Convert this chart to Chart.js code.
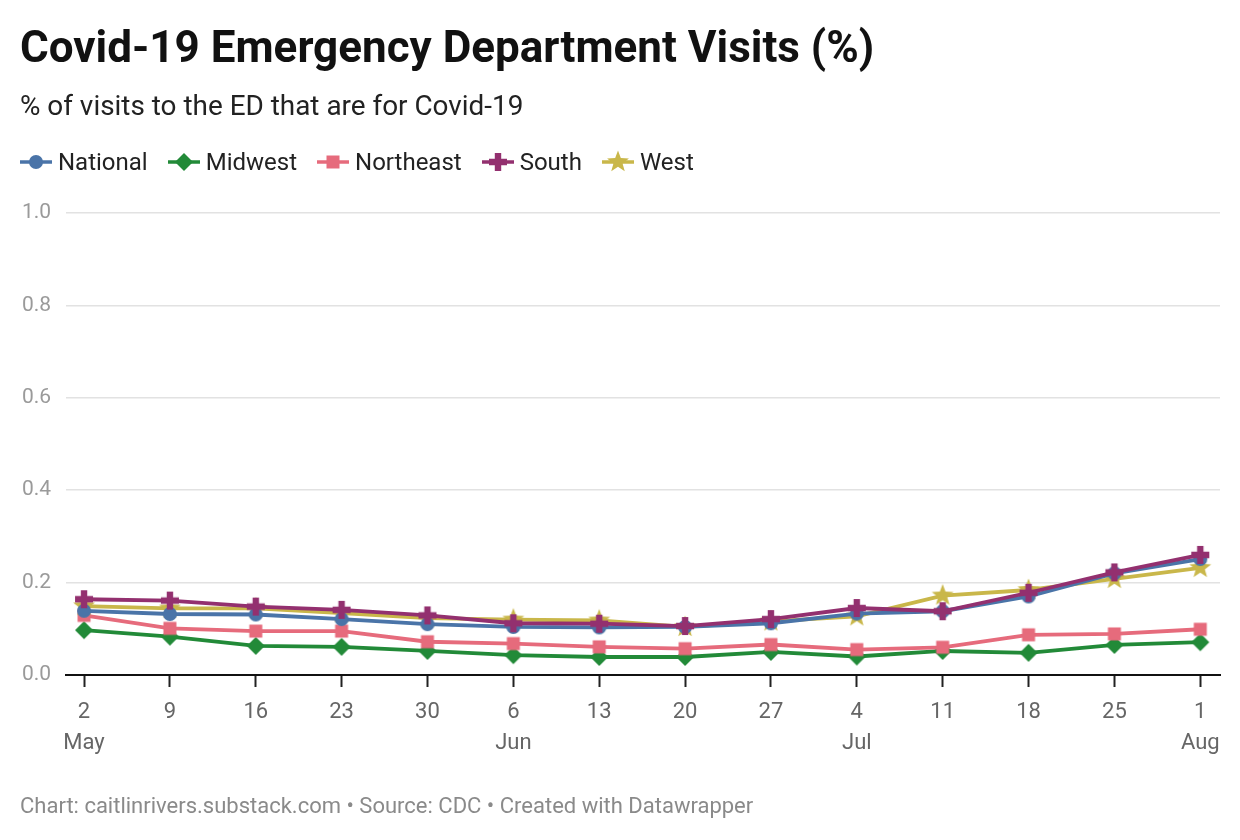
<!DOCTYPE html>
<html><head><meta charset="utf-8">
<script src="https://cdn.jsdelivr.net/npm/chart.js@4.4.1/dist/chart.umd.min.js"></script>
<style>
html,body{margin:0;padding:0;background:#fff;}
body{width:1240px;height:840px;position:relative;overflow:hidden;font-family:Roboto,sans-serif;}
#wrap{position:absolute;left:0;top:0;width:1240px;height:840px;}
.txt{position:absolute;white-space:nowrap;z-index:2}
#title{left:20px;top:21px;font-size:44px;font-weight:700;color:#111;line-height:52px;}
#subtitle{left:20px;top:89px;font-size:27.9px;color:#222;line-height:34px;}
#legend{left:20px;top:145px;display:flex;font-size:24px;color:#222;line-height:34px;}
.item{display:flex;align-items:center;margin-right:20px}
.item canvas{margin-right:6px}
#footer{left:20px;top:791px;font-size:22px;color:#8a8a8a;line-height:30px;}
</style></head>
<body>
<div id="title" class="txt">Covid-19 Emergency Department Visits (%)</div>
<div id="subtitle" class="txt">% of visits to the ED that are for Covid-19</div>
<div id="legend" class="txt"></div>
<div id="footer" class="txt">Chart: caitlinrivers.substack.com • Source: CDC • Created with Datawrapper</div>
<div id="wrap"><canvas id="c" width="1240" height="840"></canvas></div>
<script>
const weeks = ['2','9','16','23','30','6','13','20','27','4','11','18','25','1'];
const months = ['May','','','','','Jun','','','','Jul','','','','Aug'];
const seriesNames = ['National','Midwest','Northeast','South','West'];
const national  = [0.139,0.132,0.131,0.121,0.110,0.104,0.103,0.104,0.112,0.133,0.138,0.170,0.220,0.251];
const midwest   = [0.097,0.083,0.063,0.061,0.052,0.043,0.039,0.039,0.050,0.040,0.052,0.048,0.065,0.071];
const northeast = [0.129,0.101,0.095,0.095,0.072,0.068,0.061,0.057,0.066,0.055,0.060,0.087,0.089,0.099];
const south     = [0.164,0.161,0.148,0.141,0.129,0.112,0.111,0.106,0.121,0.145,0.138,0.178,0.222,0.260];
const west      = [0.149,0.144,0.144,0.134,0.123,0.120,0.118,0.104,0.116,0.127,0.172,0.184,0.208,0.232];
const yTicks = [0,0.2,0.4,0.6,0.8,1.0];

const colors = {National:'#4a74a8', Midwest:'#228a38', Northeast:'#e66b7c', South:'#93306f', West:'#c9b74a'};
const shapes = {National:'circle', Midwest:'diamond', Northeast:'square', South:'plus', West:'star'};
const values = {National:national, Midwest:midwest, Northeast:northeast, South:south, West:west};
const orders = {South:1, National:2, West:3, Northeast:4, Midwest:5};

function drawShape(ctx, shape, cx, cy, color){
  ctx.fillStyle = color;
  ctx.beginPath();
  if(shape==='circle'){ ctx.arc(cx,cy,7,0,Math.PI*2); }
  else if(shape==='diamond'){ ctx.moveTo(cx,cy-9); ctx.lineTo(cx+9,cy); ctx.lineTo(cx,cy+9); ctx.lineTo(cx-9,cy); ctx.closePath(); }
  else if(shape==='square'){ ctx.rect(cx-6.5,cy-6.5,13,13); }
  else if(shape==='plus'){ const a=9,t=3.2; ctx.rect(cx-t,cy-a,2*t,2*a); ctx.rect(cx-a,cy-t,2*a,2*t); }
  else if(shape==='star'){ const R=11.5,r=4.8; for(let i=0;i<10;i++){ const ang=-Math.PI/2+i*Math.PI/5; const rr=i%2?r:R; const px=cx+rr*Math.cos(ang), py=cy+rr*Math.sin(ang); i?ctx.lineTo(px,py):ctx.moveTo(px,py);} ctx.closePath(); }
  ctx.fill();
}
function pointIcon(name){
  const c=document.createElement('canvas'); c.width=26; c.height=26;
  drawShape(c.getContext('2d'), shapes[name], 13, 13, colors[name]);
  return c;
}
const legend=document.getElementById('legend');
seriesNames.forEach(n=>{
  const it=document.createElement('div'); it.className='item';
  const c=document.createElement('canvas'); c.width=32; c.height=26;
  const ctx=c.getContext('2d'); ctx.strokeStyle=colors[n]; ctx.lineWidth=3.5;
  ctx.beginPath(); ctx.moveTo(0,13); ctx.lineTo(32,13); ctx.stroke();
  drawShape(ctx, shapes[n], 16, 13, colors[n]);
  it.appendChild(c);
  const s=document.createElement('span'); s.textContent=n; it.appendChild(s);
  legend.appendChild(it);
});

const datasets = seriesNames.map(n=>({
  label:n,
  data: values[n].map((v,i)=>({x:i,y:v})),
  borderColor:colors[n], backgroundColor:colors[n],
  borderWidth:3.8, pointStyle:pointIcon(n), pointRadius:8, pointHoverRadius:8,
  order:orders[n], tension:0
}));

new Chart(document.getElementById('c'), {
  type:'line',
  data:{datasets},
  options:{
    responsive:false, animation:false, devicePixelRatio:1,
    layout:{padding:{top:213,left:22,right:20,bottom:85}},
    plugins:{legend:{display:false}, tooltip:{enabled:false}},
    scales:{
      x:{type:'linear', min:-0.21, max:weeks.length-1+0.23,
        afterBuildTicks:s=>{ s.ticks = weeks.map((_,i)=>({value:i})); },
        afterFit:s=>{ s.height=80; },
        ticks:{autoSkip:false, maxRotation:0, includeBounds:false, padding:10,
          color:'#666', font:{family:'Roboto', size:22, lineHeight:1.4},
          callback:(v)=>{ const i=Math.round(v); return months[i]?[weeks[i],months[i]]:weeks[i]; }},
        grid:{drawOnChartArea:false, drawTicks:true, tickLength:12, color:'#222', tickColor:'#222', tickWidth:2},
        border:{display:true, color:'#111', width:2}
      },
      y:{min:0, max:1,
        afterBuildTicks:s=>{ s.ticks = yTicks.map(v=>({value:v})); },
        afterFit:s=>{ s.width=44; },
        ticks:{crossAlign:'far', padding:14, color:'#9a9a9a', font:{family:'Roboto', size:21},
          callback:v=>Number(v).toFixed(1)},
        grid:{color:'#e2e2e2', lineWidth:1.5, drawTicks:false},
        border:{display:false}
      }
    }
  }
});
</script>
</body></html>
